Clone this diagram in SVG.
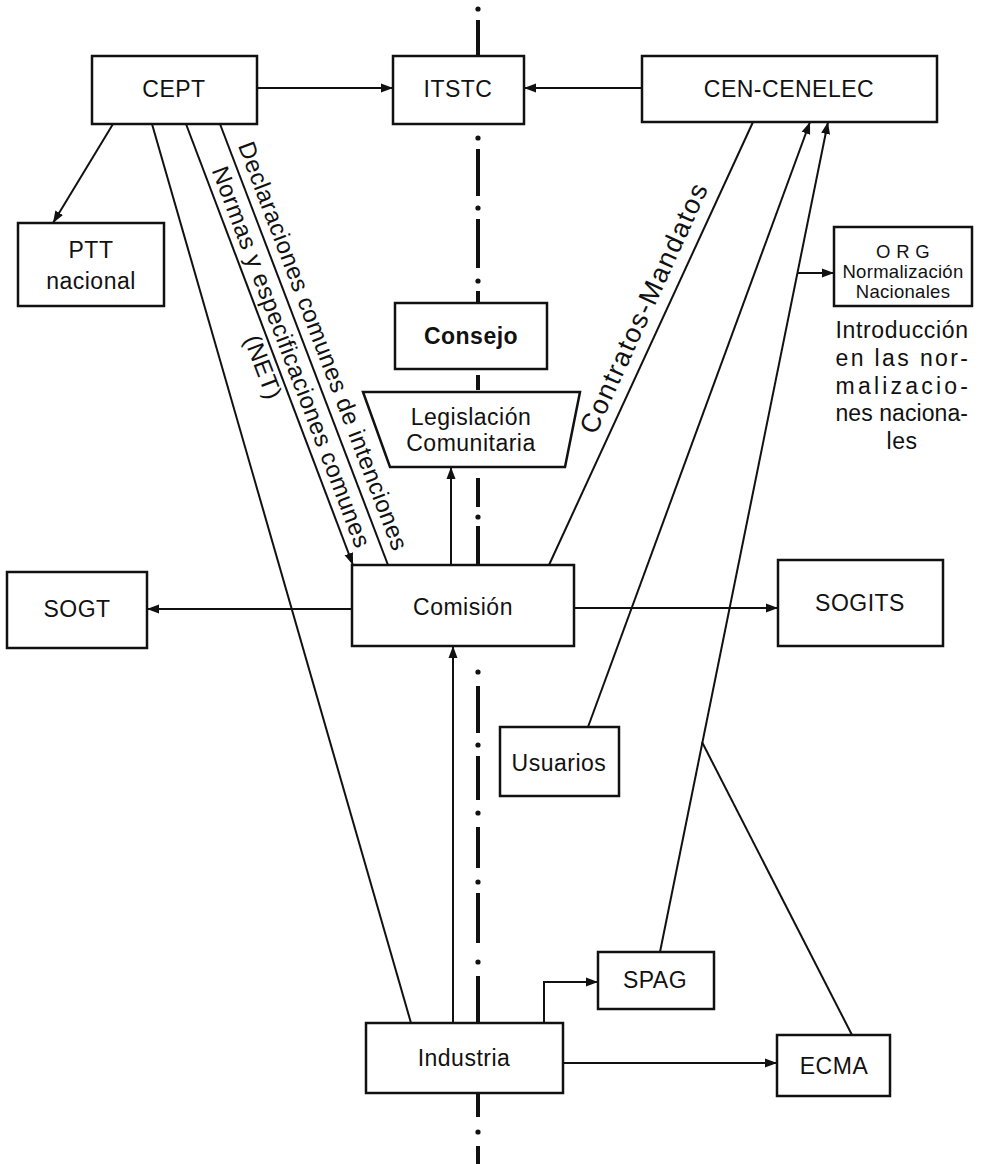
<svg xmlns="http://www.w3.org/2000/svg" width="984" height="1164" viewBox="0 0 984 1164">
<style>
  .box { fill: #fff; stroke: #111; stroke-width: 2.5; }
  .ln { fill: none; stroke: #111; stroke-width: 2; }
  .cl { fill: none; stroke: #111; stroke-width: 4; stroke-linecap: butt; }
  .dot { fill: #111; }
  .t { font-family: "Liberation Sans", Arial, sans-serif; font-size: 23px; fill: #111; text-anchor: middle; dominant-baseline: central; letter-spacing: 0.5px; }
  .b { font-weight: bold; }
  .s { font-size: 18.5px; letter-spacing: 0.3px; }
  .r { font-family: "Liberation Sans", Arial, sans-serif; font-size: 24px; fill: #111; text-anchor: middle; letter-spacing: 0.5px; }
  .rl { font-size: 27px; }
</style>
<defs>
  <marker id="ah" markerUnits="userSpaceOnUse" markerWidth="13" markerHeight="10" refX="12" refY="5" orient="auto">
    <path d="M0,0.5 L12,5 L0,9.5 z" fill="#111"/>
  </marker>
</defs>
<rect width="984" height="1164" fill="#fff"/>

<g id="centerline">
  <path class="cl" d="M478,20 V56 M478,149 V196 M478,219 V268 M478,291 V303 M478,375 V390 M478,478 V507 M478,526 V565 M478,686 V733 M478,756 V800 M478,827 V868 M478,893 V943 M478,976 V1023 M478,1093 V1117 M478,1146 V1164"/>
  <circle class="dot" cx="478" cy="9" r="2.6"/>
  <circle class="dot" cx="478" cy="138" r="2.6"/>
  <circle class="dot" cx="478" cy="208" r="2.6"/>
  <circle class="dot" cx="478" cy="281" r="2.6"/>
  <circle class="dot" cx="478" cy="517" r="2.6"/>
  <circle class="dot" cx="478" cy="672" r="2.6"/>
  <circle class="dot" cx="478" cy="745" r="2.6"/>
  <circle class="dot" cx="478" cy="813" r="2.6"/>
  <circle class="dot" cx="478" cy="882" r="2.6"/>
  <circle class="dot" cx="478" cy="962" r="2.6"/>
  <circle class="dot" cx="478" cy="1132" r="2.6"/>
</g>

<g id="connectors">
  <path class="ln" d="M257,88 L393,88" marker-end="url(#ah)"/>
  <path class="ln" d="M642,88 L524,88" marker-end="url(#ah)"/>
  <path class="ln" d="M113,124 L53,223" marker-end="url(#ah)"/>
  <path class="ln" d="M152,124 L411,1023"/>
  <path class="ln" d="M186,124 L353,565" marker-end="url(#ah)"/>
  <path class="ln" d="M220,124 L388,565"/>
  <path class="ln" d="M451,565 L451,467" marker-end="url(#ah)"/>
  <path class="ln" d="M352,609 L147,609" marker-end="url(#ah)"/>
  <path class="ln" d="M574,608 L778,608" marker-end="url(#ah)"/>
  <path class="ln" d="M453,1023 L453,646" marker-end="url(#ah)"/>
  <path class="ln" d="M549,565 L753,122"/>
  <path class="ln" d="M588,727 L810,122" marker-end="url(#ah)"/>
  <path class="ln" d="M660,952 L828,122" marker-end="url(#ah)"/>
  <path class="ln" d="M797,273 L834,273" marker-end="url(#ah)"/>
  <path class="ln" d="M702,742 L852,1035"/>
  <path class="ln" d="M544,1023 L544,982 L598,982" marker-end="url(#ah)"/>
  <path class="ln" d="M563,1063 L777,1063" marker-end="url(#ah)"/>
  <text class="r" transform="translate(315.5,349) rotate(69.06)">Declaraciones comunes de intenciones</text>
  <text class="r" transform="translate(283.7,359.9) rotate(69.16)">Normas y especificaciones comunes</text>
  <text class="r" transform="translate(255.5,370) rotate(69.16)">(NET)</text>
  <text class="r rl" transform="translate(652,312) rotate(-65.4)" textLength="272" lengthAdjust="spacing">Contratos-Mandatos</text>
</g>

<g id="n-cept"><rect class="box" x="92" y="56" width="165" height="68"/><text class="t" x="174" y="89">CEPT</text></g>
<g id="n-itstc"><rect class="box" x="393" y="56" width="131" height="68"/><text class="t" x="458" y="89">ITSTC</text></g>
<g id="n-cen"><rect class="box" x="642" y="56" width="295" height="66"/><text class="t" x="789" y="89">CEN-CENELEC</text></g>
<g id="n-ptt"><rect class="box" x="18" y="223" width="146" height="83"/><text class="t" x="91" y="250">PTT</text><text class="t" x="91" y="281">nacional</text></g>
<g id="n-org"><rect class="box" x="834" y="227" width="138" height="79"/><text class="t s" x="903" y="251">O R G</text><text class="t s" x="903" y="271">Normalización</text><text class="t s" x="903" y="291">Nacionales</text></g>
<g id="n-intro">
  <text class="t" x="902" y="330" textLength="133" lengthAdjust="spacing">Introducción</text>
  <text class="t" x="902" y="358" textLength="133" lengthAdjust="spacing">en las nor-</text>
  <text class="t" x="902" y="386" textLength="133" lengthAdjust="spacing">malizacio-</text>
  <text class="t" x="902" y="413" textLength="133" lengthAdjust="spacing">nes naciona-</text>
  <text class="t" x="902" y="441">les</text>
</g>
<g id="n-consejo"><rect class="box" x="395" y="303" width="152" height="66"/><text class="t b" x="471" y="336">Consejo</text></g>
<g id="n-legis"><polygon class="box" points="363,392 580,392 565,467 390,467"/><text class="t" x="471" y="417">Legislación</text><text class="t" x="471" y="443">Comunitaria</text></g>
<g id="n-comision"><rect class="box" x="352" y="565" width="222" height="81"/><text class="t" x="463" y="607">Comisión</text></g>
<g id="n-sogt"><rect class="box" x="7" y="572" width="140" height="76"/><text class="t" x="77" y="609">SOGT</text></g>
<g id="n-sogits"><rect class="box" x="778" y="560" width="165" height="86"/><text class="t" x="860" y="603">SOGITS</text></g>
<g id="n-usuarios"><rect class="box" x="500" y="727" width="119" height="69"/><text class="t" x="559" y="763">Usuarios</text></g>
<g id="n-spag"><rect class="box" x="598" y="952" width="116" height="57"/><text class="t" x="655" y="980">SPAG</text></g>
<g id="n-industria"><rect class="box" x="366" y="1023" width="197" height="70"/><text class="t" x="464" y="1058">Industria</text></g>
<g id="n-ecma"><rect class="box" x="777" y="1035" width="113" height="61"/><text class="t" x="834" y="1066">ECMA</text></g>
</svg>
